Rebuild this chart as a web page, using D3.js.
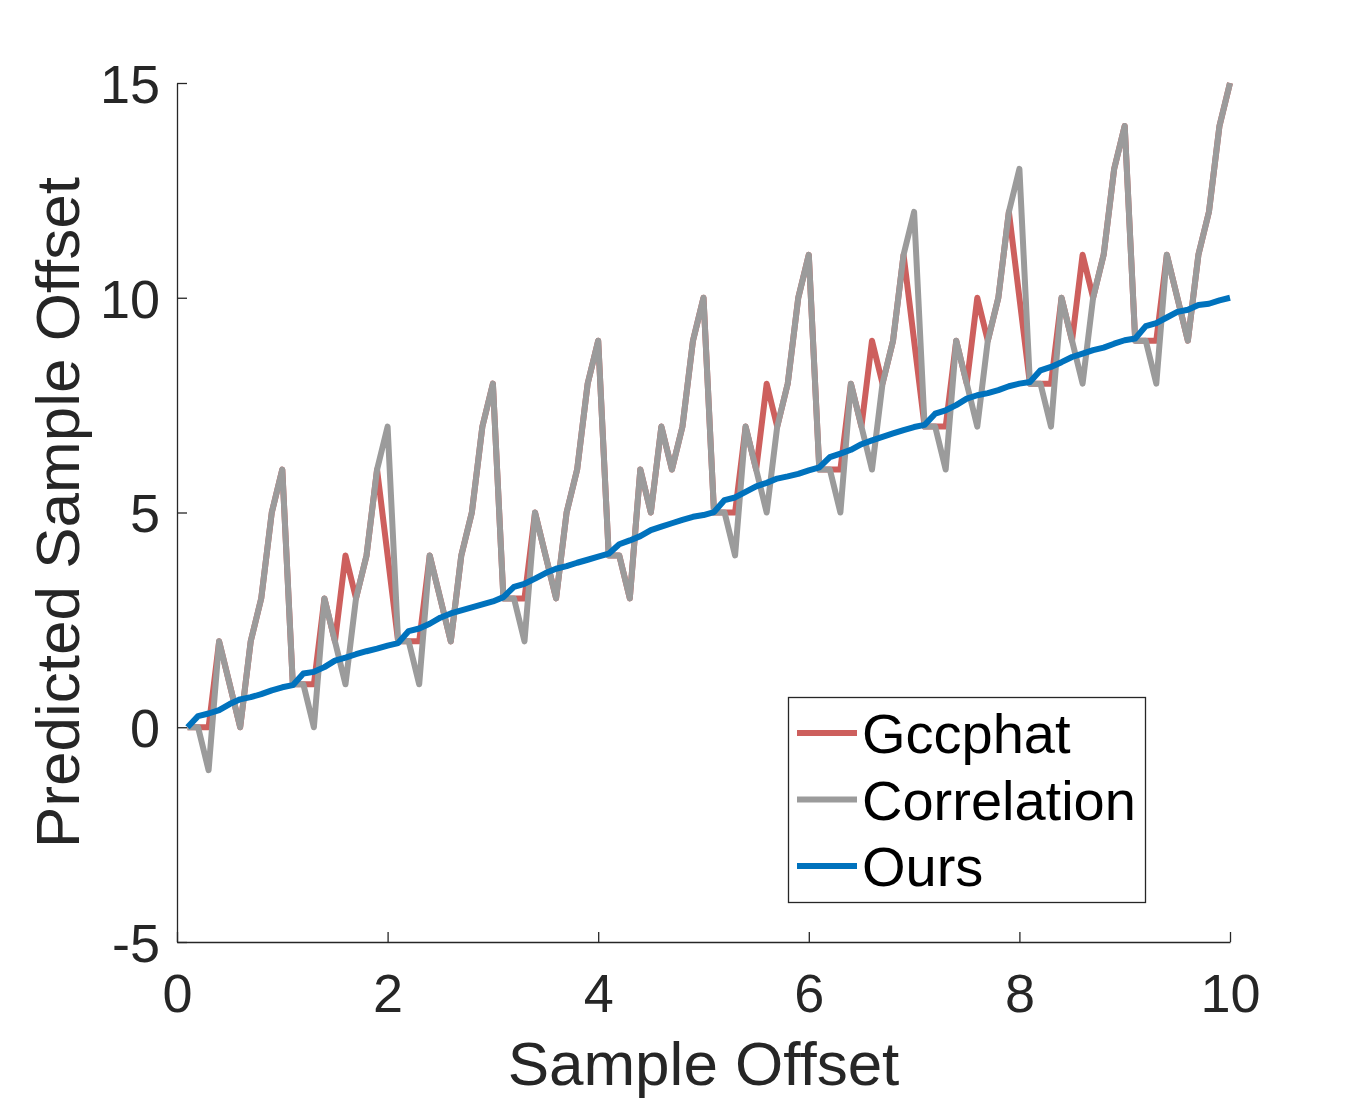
<!DOCTYPE html>
<html>
<head>
<meta charset="utf-8">
<script src="https://cdn.jsdelivr.net/npm/d3@7"></script>
<style>
  body { margin: 0; background: #ffffff; }
  svg text { font-family: Helvetica, "Liberation Sans", Arial, sans-serif; }
</style>
</head>
<body>
<div id="chart"></div>
<script>
// sample offsets along the x axis
const offsets = [
  0.1, 0.2, 0.3, 0.4, 0.5, 0.6, 0.7, 0.8, 0.9, 1.0,
  1.1, 1.2, 1.3, 1.4, 1.5, 1.6, 1.7, 1.8, 1.9, 2.0,
  2.1, 2.2, 2.3, 2.4, 2.5, 2.6, 2.7, 2.8, 2.9, 3.0,
  3.1, 3.2, 3.3, 3.4, 3.5, 3.6, 3.7, 3.8, 3.9, 4.0,
  4.1, 4.2, 4.3, 4.4, 4.5, 4.6, 4.7, 4.8, 4.9, 5.0,
  5.1, 5.2, 5.3, 5.4, 5.5, 5.6, 5.7, 5.8, 5.9, 6.0,
  6.1, 6.2, 6.3, 6.4, 6.5, 6.6, 6.7, 6.8, 6.9, 7.0,
  7.1, 7.2, 7.3, 7.4, 7.5, 7.6, 7.7, 7.8, 7.9, 8.0,
  8.1, 8.2, 8.3, 8.4, 8.5, 8.6, 8.7, 8.8, 8.9, 9.0,
  9.1, 9.2, 9.3, 9.4, 9.5, 9.6, 9.7, 9.8, 9.9, 10.0
];

const gccphat = [
  0, 0, 0, 2, 1, 0, 2, 3, 5, 6,
  1, 1, 1, 3, 2, 4, 3, 4, 6, 4,
  2, 2, 2, 4, 3, 2, 4, 5, 7, 8,
  3, 3, 3, 5, 4, 3, 5, 6, 8, 9,
  4, 4, 3, 6, 5, 7, 6, 7, 9, 10,
  5, 5, 5, 7, 6, 8, 7, 8, 10, 11,
  6, 6, 6, 8, 7, 9, 8, 9, 11, 9,
  7, 7, 7, 9, 8, 10, 9, 10, 12, 10,
  8, 8, 8, 10, 9, 11, 10, 11, 13, 14,
  9, 9, 9, 11, 10, 9, 11, 12, 14, 15
];

const correlation = [
  0, 0, -1, 2, 1, 0, 2, 3, 5, 6,
  1, 1, 0, 3, 2, 1, 3, 4, 6, 7,
  2, 2, 1, 4, 3, 2, 4, 5, 7, 8,
  3, 3, 2, 5, 4, 3, 5, 6, 8, 9,
  4, 4, 3, 6, 5, 7, 6, 7, 9, 10,
  5, 5, 4, 7, 6, 5, 7, 8, 10, 11,
  6, 6, 5, 8, 7, 6, 8, 9, 11, 12,
  7, 7, 6, 9, 8, 7, 9, 10, 12, 13,
  8, 8, 7, 10, 9, 8, 10, 11, 13, 14,
  9, 9, 8, 11, 10, 9, 11, 12, 14, 15
];

const ours = [
  0.00, 0.26, 0.32, 0.40, 0.54, 0.65, 0.70, 0.77, 0.86, 0.93,
  0.98, 1.25, 1.29, 1.40, 1.55, 1.62, 1.70, 1.77, 1.83, 1.90,
  1.96, 2.24, 2.30, 2.41, 2.55, 2.65, 2.72, 2.79, 2.86, 2.93,
  3.03, 3.27, 3.34, 3.46, 3.59, 3.69, 3.75, 3.83, 3.90, 3.97,
  4.04, 4.26, 4.35, 4.45, 4.59, 4.67, 4.75, 4.83, 4.90, 4.94,
  5.01, 5.29, 5.35, 5.48, 5.61, 5.69, 5.79, 5.84, 5.90, 5.98,
  6.05, 6.29, 6.37, 6.46, 6.59, 6.68, 6.76, 6.84, 6.92, 6.99,
  7.04, 7.30, 7.38, 7.50, 7.65, 7.73, 7.78, 7.85, 7.94, 8.00,
  8.04, 8.31, 8.39, 8.50, 8.62, 8.70, 8.78, 8.84, 8.93, 9.01,
  9.05, 9.34, 9.41, 9.54, 9.67, 9.72, 9.83, 9.86, 9.94, 10.00
];

const seriesNames = ["Gccphat", "Correlation", "Ours"];
const xTicks = [0, 2, 4, 6, 8, 10];
const yTicks = [-5, 0, 5, 10, 15];

const width = 1360;
const height = 1100;
const axisColor = "#262626";
const colors = {Gccphat: "#cd5f5d", Correlation: "#9b9b9b", Ours: "#0072bd"};
const lineWidth = 6;

const svg = d3.select("#chart")
    .append("svg")
    .attr("width", width)
    .attr("height", height);

svg.append("rect")
    .attr("width", width)
    .attr("height", height)
    .attr("fill", "#ffffff");

const x = d3.scaleLinear().domain([0, 10]).range([177, 1230]);
const y = d3.scaleLinear().domain([-5, 15]).range([942, 83]);

// Title lines, drawn red first so the grey sits on top
const series = [
    {name: "Gccphat", values: gccphat},
    {name: "Correlation", values: correlation},
    {name: "Ours", values: ours}
];

const line = d3.line()
    .x((d, i) => x(offsets[i]))
    .y(d => y(d));

series.forEach(function(s) {
    svg.append("path")
        .datum(s.values)
        .attr("fill", "none")
        .attr("stroke", colors[s.name])
        .attr("stroke-width", lineWidth)
        .attr("stroke-linejoin", "round")
        .attr("d", line);
});

// Title axes (MATLAB style, ticks pointing in, no box)
const xAxis = d3.axisBottom(x)
    .tickValues(xTicks)
    .tickSizeInner(-10)
    .tickSizeOuter(0)
    .tickPadding(32)
    .tickFormat(d => String(d));

const yAxis = d3.axisLeft(y)
    .tickValues(yTicks)
    .tickSizeInner(-10)
    .tickSizeOuter(0)
    .tickPadding(17)
    .tickFormat(d => String(d));

const gx = svg.append("g")
    .attr("transform", `translate(0,${y(-5)})`)
    .call(xAxis);

const gy = svg.append("g")
    .attr("transform", `translate(${x(0)},0)`)
    .call(yAxis);

[gx, gy].forEach(function(g) {
    g.select(".domain").attr("stroke", axisColor).attr("stroke-width", 1.3);
    g.selectAll(".tick line").attr("stroke", axisColor).attr("stroke-width", 1.3);
    g.selectAll(".tick text")
        .attr("fill", axisColor)
        .style("font-size", "54px")
        .style("font-family", "Helvetica, 'Liberation Sans', Arial, sans-serif");
});

gx.selectAll(".tick text").attr("dy", "0.71em");
gy.selectAll(".tick text").attr("dy", "0.36em");

svg.append("text")
    .attr("x", (x(0) + x(10)) / 2)
    .attr("y", 1085)
    .attr("text-anchor", "middle")
    .attr("fill", axisColor)
    .style("font-size", "62px")
    .text("Sample Offset");

svg.append("text")
    .attr("transform", `translate(79,${(y(-5) + y(15)) / 2}) rotate(-90)`)
    .attr("text-anchor", "middle")
    .attr("fill", axisColor)
    .style("font-size", "62px")
    .text("Predicted Sample Offset");

// Title legend
const legend = svg.append("g");

legend.append("rect")
    .attr("x", 788.5)
    .attr("y", 697.5)
    .attr("width", 357)
    .attr("height", 205)
    .attr("fill", "#ffffff")
    .attr("stroke", axisColor)
    .attr("stroke-width", 1.3);

seriesNames.forEach(function(name, i) {
    const rowY = 733 + 66.5 * i;

    legend.append("line")
        .attr("x1", 797)
        .attr("x2", 857)
        .attr("y1", rowY)
        .attr("y2", rowY)
        .attr("stroke", colors[name])
        .attr("stroke-width", lineWidth);

    legend.append("text")
        .attr("x", 862)
        .attr("y", rowY + 20)
        .attr("fill", "#000000")
        .style("font-size", "56px")
        .text(name);
});
</script>
</body>
</html>
